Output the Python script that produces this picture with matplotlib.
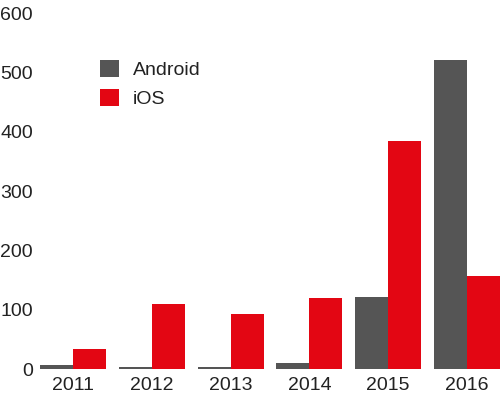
import numpy as np
import matplotlib
matplotlib.use('Agg')
from matplotlib import pyplot as plt
from matplotlib import font_manager

years = ['2011', '2012', '2013', '2014', '2015', '2016']
android = [7, 4, 4, 10, 122, 521]
ios = [34, 110, 93, 119, 384, 157]

names = {f.name for f in font_manager.fontManager.ttflist}
fam = 'Liberation Sans Narrow' if 'Liberation Sans Narrow' in names else 'Liberation Sans'
plt.rcParams['font.family'] = fam

fig = plt.figure(figsize=(5, 3.99), dpi=100)
ax = fig.add_axes([0.08, 30 / 399, 0.92, (399 - 13 - 30) / 399])

x = np.arange(len(years))
w = 0.418
ax.bar(x - w / 2, android, w, color='#555555', label='Android')
ax.bar(x + w / 2, ios, w, color='#e30613', label='iOS')

ax.set_xlim(-w, len(years) - 1 + w)
ax.set_ylim(0, 600)
ax.set_xticks(x)
ax.set_xticklabels(years)
ax.set_yticks(range(0, 601, 100))
for s in ax.spines.values():
    s.set_visible(False)
ax.tick_params(length=0, labelsize=14, colors='#222222')
ax.tick_params(axis='y', pad=5)
ax.tick_params(axis='x', pad=6)

ax.legend(loc='upper left', bbox_to_anchor=(0.092, 0.918), frameon=False,
          fontsize=14, handlelength=1.0, handleheight=1.0, handletextpad=0.7,
          labelspacing=0.5, labelcolor='#222222')

plt.savefig('out.png')
